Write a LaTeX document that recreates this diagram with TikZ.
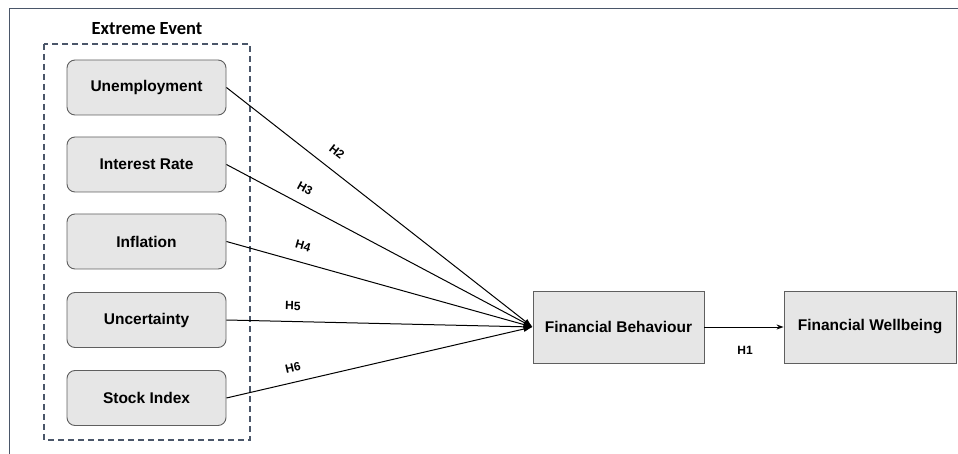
\documentclass[tikz,border=0pt]{standalone}
\usepackage{fontspec}
\setmainfont{Liberation Sans}
\newfontfamily\calfont{Carlito}
\usetikzlibrary{arrows.meta}
\definecolor{framec}{HTML}{4A5669}
\definecolor{boxfill}{HTML}{E6E6E6}
\definecolor{boxline}{HTML}{5F5F5F}
\tikzset{
  varbox/.style={draw=boxline, fill=boxfill, line width=0.9pt, rounded corners=8pt,
    minimum width=159pt, minimum height=55pt, inner sep=0pt,
    font=\fontsize{15.5}{17}\selectfont\bfseries},
  mainbox/.style={draw=boxline, fill=boxfill, line width=0.9pt,
    minimum height=72pt, inner sep=0pt,
    font=\fontsize{15.5}{17}\selectfont\bfseries},
  hlab/.style={font=\fontsize{12}{14}\selectfont\bfseries, inner sep=0pt},
  conn/.style={line width=1pt, -{Latex[length=9pt,width=6pt]}},
}
\begin{document}
\begin{tikzpicture}[x=1pt,y=-1pt]
\useasboundingbox (0,0) rectangle (958,454);
\draw[framec, line width=1.5pt] (9.5,454) -- (9.5,8.5) -- (958,8.5);
\node[font=\calfont\fontsize{18.5}{20}\selectfont\bfseries, inner sep=0pt] (title) at (147,29) {Extreme Event};
\draw[framec, line width=1.2pt, dash pattern=on 6pt off 4pt] (44,44) rectangle (250,440);
\node[varbox] (u) at (146.5,87.5) {Unemployment};
\node[varbox] (ir) at (146.5,164.5) {Interest Rate};
\node[varbox] (inf) at (146.5,241.5) {Inflation};
\node[varbox] (unc) at (146.5,320) {Uncertainty};
\node[varbox] (si) at (146.5,398) {Stock Index};
\node[mainbox, minimum width=171pt] (fb) at (618.5,327) {Financial Behaviour};
\node[mainbox, minimum width=172pt] (fw) at (870,327) {Financial Wellbeing};
\coordinate (tip) at (fb.west);
\draw[conn] (u.east) -- (tip);
\draw[conn] (ir.east) -- (tip);
\draw[conn] (inf.east) -- (tip);
\draw[conn] (unc.east) -- (tip);
\draw[conn] (si.east) -- (tip);
\draw[line width=1pt, -{Stealth[length=7pt,width=5pt]}] (fb.east) -- (fw.west);
\node[hlab, rotate=-37.9] (h2) at (337,152) {H2};
\node[hlab, rotate=-27.9] (h3) at (305,188) {H3};
\node[hlab, rotate=-15.6] (h4) at (303,246) {H4};
\node[hlab, rotate=-1.3] (h5) at (293,306) {H5};
\node[hlab, rotate=13] (h6) at (293,368) {H6};
\node[hlab] (h1) at (745,350) {H1};
\end{tikzpicture}
\end{document}
